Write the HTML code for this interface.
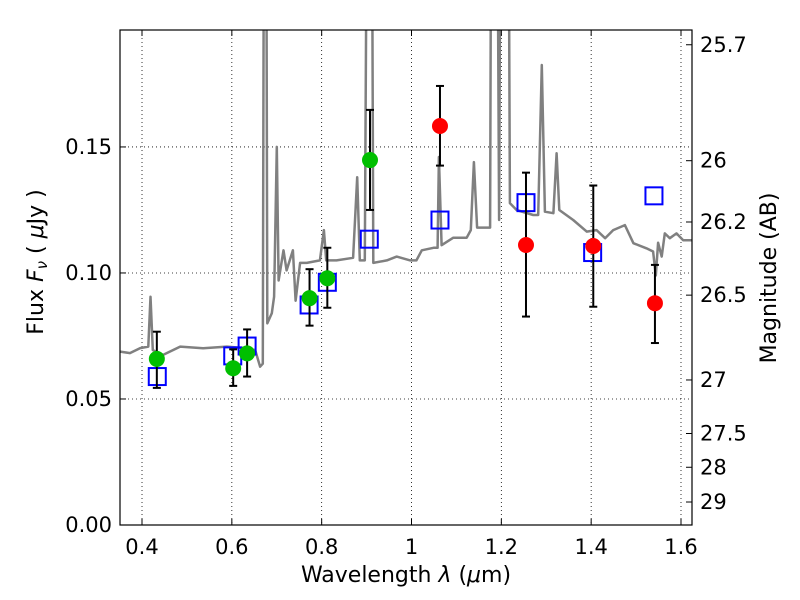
<!DOCTYPE html>
<html><head><meta charset="utf-8"><style>
body{margin:0;background:#fff;}
svg{display:block;font-family:"DejaVu Sans","Liberation Sans",sans-serif;}
</style></head><body>
<svg id="chart" width="800" height="600" viewBox="0 0 800 600" xmlns="http://www.w3.org/2000/svg">
<rect width="800" height="600" fill="#fff"/>
<g id="grid"></g>
<g id="spec"></g>
<g id="marks"></g>
<g id="axes"></g>
</svg>
<script>
const specLam=[0.351,0.373,0.396,0.414,0.419,0.424,0.447,0.485,0.536,0.589,0.633,0.652,0.663,0.669,0.672,0.676,0.679,0.689,0.694,0.700,0.704,0.715,0.722,0.736,0.742,0.752,0.767,0.796,0.805,0.810,0.833,0.870,0.879,0.885,0.896,0.902,0.911,0.915,0.945,0.967,0.997,1.011,1.023,1.049,1.058,1.061,1.067,1.093,1.123,1.132,1.139,1.146,1.175,1.178,1.190,1.195,1.199,1.215,1.219,1.234,1.271,1.282,1.290,1.297,1.316,1.323,1.329,1.360,1.390,1.412,1.431,1.449,1.475,1.494,1.523,1.538,1.544,1.549,1.557,1.564,1.575,1.590,1.605,1.627];
const specFlux=[0.0688,0.0682,0.0702,0.0708,0.0906,0.0694,0.0675,0.0708,0.0701,0.0708,0.0701,0.0694,0.0628,0.064,0.3,0.3,0.080,0.084,0.0906,0.150,0.097,0.109,0.101,0.109,0.089,0.104,0.104,0.105,0.117,0.105,0.105,0.106,0.138,0.105,0.105,0.3,0.3,0.104,0.105,0.1065,0.105,0.105,0.109,0.110,0.110,0.146,0.111,0.114,0.114,0.117,0.144,0.118,0.118,0.3,0.3,0.121,0.3,0.3,0.1277,0.125,0.123,0.123,0.1825,0.1243,0.1237,0.1475,0.125,0.121,0.1164,0.117,0.1138,0.117,0.119,0.1118,0.1098,0.1085,0.099,0.112,0.1065,0.1157,0.1138,0.1157,0.113,0.113];
const greenLam=[0.433,0.603,0.634,0.773,0.8126,0.9076];
const greenFlux=[0.0659,0.0622,0.0681,0.090,0.0979,0.1448];
const greenLo=[0.0544,0.0552,0.0589,0.0791,0.0862,0.125];
const greenHi=[0.0767,0.0697,0.0776,0.1015,0.110,0.1647];
const redLam=[1.0634,1.2549,1.4047,1.542];
const redFlux=[0.1583,0.1111,0.1107,0.088];
const redLo=[0.1426,0.0827,0.0866,0.0722];
const redHi=[0.1742,0.1398,0.1347,0.1032];
const blueLam=[0.434,0.602,0.634,0.772,0.8126,0.906,1.0634,1.2549,1.4033,1.5398];
const blueFlux=[0.0589,0.0671,0.0710,0.0873,0.0963,0.1134,0.121,0.1279,0.1081,0.1306];
const xTicks=[0.4,0.6,0.8,1.0,1.2,1.4,1.6];
const xTickLabels=["0.4","0.6","0.8","1","1.2","1.4","1.6"];
const yTicks=[0,0.05,0.10,0.15];
const yTickLabels=["0.00","0.05","0.10","0.15"];
const magTicks=[25.7,26,26.2,26.5,27,27.5,28,29];
const magTickLabels=["25.7","26","26.2","26.5","27","27.5","28","29"];

const L=120,R=692,T=30,B=525;
const xmin=0.351,xmax=1.6245,ymin=0,ymax=0.1964;
const X=v=>L+(v-xmin)/(xmax-xmin)*(R-L);
const Y=v=>B-(v-ymin)/(ymax-ymin)*(B-T);
const magToFlux=m=>Math.pow(10,(23.9-m)/2.5);
const NS="http://www.w3.org/2000/svg";
function mk(tag,attrs,parent,text){const e=document.createElementNS(NS,tag);for(const k in attrs)e.setAttribute(k,attrs[k]);if(text!==undefined)e.textContent=text;parent.appendChild(e);return e;}
const grid=document.getElementById('grid'),spec=document.getElementById('spec'),marks=document.getElementById('marks'),axes=document.getElementById('axes');

const defs=mk('defs',{},document.getElementById('chart'));
const cp=mk('clipPath',{id:'clip'},defs);mk('rect',{x:L,y:T,width:R-L,height:B-T},cp);
spec.setAttribute('clip-path','url(#clip)');

xTicks.forEach((v,i)=>{
  const g=mk('line',{x1:X(v),x2:X(v),y1:T,y2:B,stroke:'#000','stroke-width':0.8,'stroke-dasharray':'1,3'},grid);
  
  
  mk('line',{x1:X(v),x2:X(v),y1:B,y2:B-6,stroke:'#000','stroke-width':1},axes);
  mk('line',{x1:X(v),x2:X(v),y1:T,y2:T+6,stroke:'#000','stroke-width':1},axes);
  const t=mk('text',{x:X(v),y:B+29,'text-anchor':'middle','font-size':21},axes,xTickLabels[i]);
  
  
});
yTicks.forEach((v,i)=>{
  if(v>0){const g=mk('line',{x1:L,x2:R,y1:Y(v),y2:Y(v),stroke:'#000','stroke-width':0.8,'stroke-dasharray':'1,3'},grid);
  
  }
  mk('line',{x1:L,x2:L+6,y1:Y(v),y2:Y(v),stroke:'#000','stroke-width':1},axes);
  const t=mk('text',{x:L-8,y:Y(v)+7,'text-anchor':'end','font-size':21},axes,yTickLabels[i]);
  
  
});
magTicks.forEach((m,i)=>{
  const y=Y(magToFlux(m));
  mk('line',{x1:R,x2:R-6,y1:y,y2:y,stroke:'#000','stroke-width':1},axes);
  const t=mk('text',{x:R+8,y:y+7,'font-size':21},axes,magTickLabels[i]);
  
  
});

let d='';specLam.forEach((l,i)=>{d+=(i?'L':'M')+X(l).toFixed(1)+','+Y(specFlux[i]).toFixed(1);});
const sp=mk('path',{d:d,fill:'none',stroke:'#808080','stroke-width':2.5,'stroke-linejoin':'round'},spec);



blueLam.forEach((l,i)=>{
  const r=mk('rect',{x:X(l)-8.5,y:Y(blueFlux[i])-8.5,width:17,height:17,fill:'none',stroke:'#0000ff','stroke-width':2},marks);
  
  
});
function pts(lam,fl,lo,hi,col,name){
  lam.forEach((l,i)=>{
    const x=X(l);
    const e=mk('g',{stroke:'#000','stroke-width':2},marks);
    
    
    mk('line',{x1:x,x2:x,y1:Y(lo[i]),y2:Y(hi[i])},e);
    mk('line',{x1:x-4,x2:x+4,y1:Y(lo[i]),y2:Y(lo[i])},e);
    mk('line',{x1:x-4,x2:x+4,y1:Y(hi[i]),y2:Y(hi[i])},e);
    const c=mk('circle',{cx:x,cy:Y(fl[i]),r:8,fill:col},marks);
    
    
  });
}
pts(greenLam,greenFlux,greenLo,greenHi,'#00bf00','green-photometry');
pts(redLam,redFlux,redLo,redHi,'#ff0000','red-photometry');

const fr=mk('rect',{x:L,y:T,width:R-L,height:B-T,fill:'none',stroke:'#000','stroke-width':1.2},axes);


</script>
<svg style="position:absolute;left:0;top:0" width="800" height="600" xmlns="http://www.w3.org/2000/svg" font-family="DejaVu Sans, Liberation Sans, sans-serif">
<text x="406" y="582" text-anchor="middle" font-size="22">Wavelength  <tspan font-style="italic">λ</tspan> (<tspan font-style="italic">μ</tspan>m)</text>
<text transform="translate(43,262) rotate(-90)" text-anchor="middle" font-size="22">Flux  <tspan font-style="italic">F</tspan><tspan font-style="italic" font-size="15" dy="4">ν</tspan><tspan dy="-4">  ( </tspan><tspan font-style="italic">μ</tspan>Jy )</text>
<text transform="translate(776,278) rotate(-90)" text-anchor="middle" font-size="22">Magnitude (AB)</text>
</svg>
</body></html>
